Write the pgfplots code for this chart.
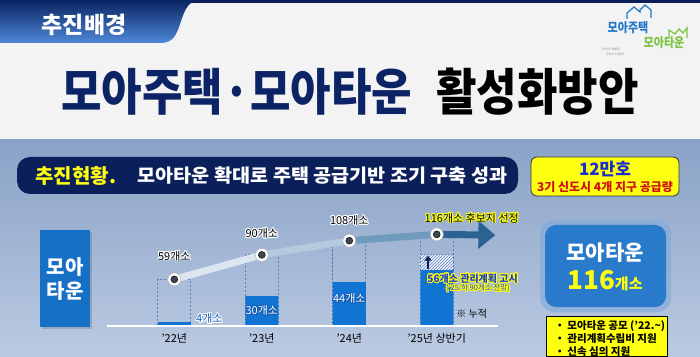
\documentclass[border=0pt]{standalone}
\usepackage{pgfplots}
\pgfplotsset{compat=1.18}
\usepackage{fontspec}
\setmainfont{Noto Sans CJK KR}
\usetikzlibrary{arrows.meta,patterns}
\usepackage{contour}
\contourlength{0.9pt}
\newcommand\fs[1]{\fontsize{#1}{#1}\selectfont}
\definecolor{bgtop}{HTML}{F3F3F3}
\definecolor{bandtop}{HTML}{8AA2C7}
\definecolor{bandbot}{HTML}{BACAE1}
\definecolor{navy}{HTML}{0B1F5C}
\definecolor{tabtop}{HTML}{0A2462}
\definecolor{tabbot}{HTML}{4E88D6}
\definecolor{titlenavy}{HTML}{0C2465}
\definecolor{banner}{HTML}{0B1F5A}
\definecolor{yel}{HTML}{FFFF10}
\definecolor{barblue}{HTML}{1274D2}
\definecolor{framecol}{HTML}{5A7FC0}
\definecolor{leftbox}{HTML}{1570C6}
\definecolor{boxblue}{HTML}{2A7ACB}
\definecolor{boxglow}{HTML}{7FA9DC}
\definecolor{seg1}{HTML}{DDE6F0}
\definecolor{seg2}{HTML}{B4CBDD}
\definecolor{seg3}{HTML}{6F9BBD}
\definecolor{seg4}{HTML}{2A6392}
\definecolor{markdark}{HTML}{3D4650}
\definecolor{hatchbg}{HTML}{EEF2FA}
\definecolor{hatchcol}{HTML}{5F80C0}
\definecolor{lblue}{HTML}{1560B8}
\definecolor{blue56}{HTML}{1A3FD0}
\definecolor{logoblue}{HTML}{1F78C8}
\definecolor{logogreen}{HTML}{7CC242}
\definecolor{redtxt}{HTML}{D01010}
\definecolor{bluetxt}{HTML}{1A2FD0}
\begin{document}
\begin{tikzpicture}
\path[use as bounding box] (0,0) rectangle (700pt,356pt);
% backgrounds
\fill[bgtop] (0,0) rectangle (700pt,356pt);
\shade[top color=bandtop, bottom color=bandbot] (0,0) rectangle (700pt,216pt);
\fill[navy] (185pt,353pt) rectangle (700pt,356pt);
\shade[top color=tabtop, bottom color=tabbot] (0,356pt) -- (200pt,356pt) .. controls (186pt,356pt) and (183pt,340pt) .. (179pt,329pt) .. controls (175pt,318pt) and (171pt,313pt) .. (160pt,313pt) -- (0,313pt) -- cycle;
\node[text=white] at (84pt,331pt) {\fs{23}\bfseries 추진배경};
% logo
\draw[logoblue, line width=1.2pt] (627pt,337pt) -- (627pt,343pt) -- (634pt,349pt) -- (640pt,344pt) -- (640pt,346pt) -- (645pt,351pt) -- (651pt,346pt) -- (651pt,338pt);
\node[text=logoblue, xscale=0.85] at (628pt,328pt) {\fs{13}\bfseries 모아주택};
\draw[logogreen, line width=1.2pt] (669pt,318pt) -- (669pt,326pt) -- (675pt,322pt) -- (679pt,327pt) -- (683pt,323pt) -- (687pt,328pt) -- (687pt,318pt);
\node[text=logogreen, xscale=0.85] at (664pt,313pt) {\fs{13}\bfseries 모아타운};
\node[text=gray] at (611pt,307pt) {\fs{3}모아서 새롭게};
\node[text=gray] at (615pt,302pt) {\fs{3}모아서 더 좋게};
% title
\node[xscale=0.88] at (350pt,264pt) {\fs{50}\bfseries\textcolor{titlenavy}{모아주택·모아타운}\hspace{0.55em}\textcolor{black}{활성화방안}};
% banner
\fill[banner, rounded corners=13pt] (17pt,162pt) rectangle (518pt,199pt);
\node[anchor=west, text=yel] at (32pt,180pt) {\fs{20}\bfseries 추진현황.};
\node[anchor=west, text=white, xscale=1.06] at (134pt,180pt) {\fs{18.5}\bfseries 모아타운 확대로 주택 공급기반 조기 구축 성과};
% yellow top box
\draw[fill=yel, draw=black!80, line width=0.8pt, rounded corners=6pt] (531pt,160pt) rectangle (679pt,199pt);
\node[text=bluetxt] at (605pt,187pt) {\fs{17}\bfseries 12만호};
\node[text=redtxt] at (605pt,169pt) {\fs{12}\bfseries 3기 신도시 4개 지구 공급량};
% left box
\fill[black, opacity=0.15] (42pt,27pt) rectangle (92pt,124pt);
\fill[leftbox] (40pt,29pt) rectangle (90pt,126pt);
\node[text=white] at (65pt,89pt) {\fs{20}\bfseries 모아};
\node[text=white] at (65pt,65pt) {\fs{20}\bfseries 타운};
% right blue box
\fill[boxglow, opacity=0.6, rounded corners=14pt] (540pt,44pt) rectangle (671pt,136pt);
\fill[boxblue, rounded corners=11pt] (545pt,49pt) rectangle (666pt,131pt);
\node[text=white] at (605pt,103pt) {\fs{21}\bfseries 모아타운};
\node[text=yel] at (605pt,75pt) {\bfseries\fs{26}116\fs{15}개소};
% list box
\draw[fill=yel, draw=black, line width=0.9pt] (546pt,0pt) rectangle (667pt,40pt);
\node[anchor=west] at (551pt,30pt) {\fs{10.5}\bfseries ・ 모아타운 공모 (’22.\textasciitilde)};
\node[anchor=west] at (551pt,17pt) {\fs{10.5}\bfseries ・ 관리계획수립비 지원};
\node[anchor=west] at (551pt,4pt) {\fs{10.5}\bfseries ・ 신속 심의 지원};
% totals axis
\begin{axis}[at={(107pt,30pt)}, anchor=south west, scale only axis, width=391pt, height=110pt,
  xmin=-0.77, xmax=3.7, ymin=0, ymax=139.24, hide axis, clip=false]
\addplot[ybar, bar width=33pt, bar shift=0pt, draw=none, fill=hatchbg,
  postaction={pattern=north east lines, pattern color=hatchcol}] coordinates {(3,90)};
\addplot[ybar, bar width=33pt, bar shift=0pt, draw=framecol, dash pattern=on 2.5pt off 1.5pt,
  line width=1pt, fill=none] coordinates {(0,59) (1,90) (2,108) (3,116)};
\addplot[seg1, line width=7pt] coordinates {(0,59) (1,90)};
\addplot[seg2, line width=7pt] coordinates {(1,90) (2,108)};
\addplot[seg3, line width=7pt] coordinates {(2,108) (3,116)};
\addplot[seg4, line width=7pt, -{Triangle[length=17pt,width=27pt]}] coordinates {(3,116) (3.67,115)};
\addplot[only marks, mark=*, mark size=6.5pt, mark options={fill=white, draw=gray!60, line width=0.5pt}]
  coordinates {(0,59) (1,90) (2,108) (3,116)};
\addplot[only marks, mark=*, mark size=3.5pt, mark options={fill=markdark, draw=none}]
  coordinates {(0,59) (1,90) (2,108) (3,116)};
\draw[-{Triangle[length=5pt,width=7pt]}, line width=2pt, color=navy] (axis cs:2.9,72) -- (axis cs:2.9,89);
\node at (axis cs:0,59) [yshift=23pt] {\fs{11}\contour{white}{59개소}};
\node at (axis cs:1,90) [yshift=21pt] {\fs{11}\contour{white}{90개소}};
\node at (axis cs:2,108) [yshift=20pt] {\fs{11}\contour{white}{108개소}};
\node at (axis cs:3,116) [yshift=16pt, xshift=35pt] {\fs{11}\contour{yel}{116개소 후보지 선정}};
\end{axis}
% solid axis
\begin{axis}[at={(107pt,30pt)}, anchor=south west, scale only axis, width=391pt, height=110pt,
  xmin=-0.77, xmax=3.7, ymin=0, ymax=110, hide axis, clip=false]
\addplot[ybar, bar width=33pt, bar shift=0pt, fill=barblue, draw=none]
  coordinates {(0,4) (1,30) (2,44) (3,56)};
\draw[white, line width=2pt] (axis cs:-0.77,0) -- (axis cs:3.7,0);
\node[text=lblue] at (axis cs:0.4,7) {\fs{11}\contour{white}{4개소}};
\node[text=white] at (axis cs:1,15) {\fs{11}\contour{lblue}{30개소}};
\node[text=white] at (axis cs:2,27) {\fs{11}\contour{lblue}{44개소}};
\node[text=blue56] at (axis cs:3.41,47) {\fs{10}\bfseries\contour{yel}{56개소 관리계획 고시}};
\node[text=blue56] at (axis cs:3.47,37) {\fs{7.5}\contour{yel}{(’25.하 90개소 전망)}};
\node at (axis cs:3.4,12) {\fs{10}※ 누적};
\node at (axis cs:0,0) [yshift=-12pt] {\fs{11}’22년};
\node at (axis cs:1,0) [yshift=-12pt] {\fs{11}’23년};
\node at (axis cs:2,0) [yshift=-12pt] {\fs{11}’24년};
\node at (axis cs:3,0) [yshift=-12pt] {\fs{11}’25년 상반기};
\end{axis}
\end{tikzpicture}
\end{document}
